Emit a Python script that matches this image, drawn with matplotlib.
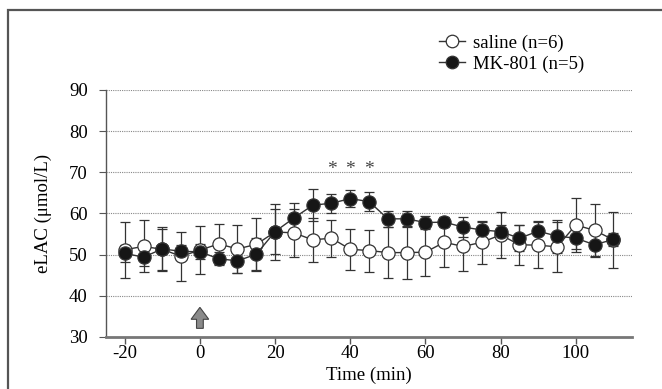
import matplotlib
matplotlib.use("Agg")
import matplotlib.pyplot as plt
from matplotlib.patches import Rectangle, FancyArrow

plt.rcParams["font.family"] = ["Liberation Serif", "DejaVu Serif"]

# time points (min)
time = [-20, -15, -10, -5, 0, 5, 10, 15, 20, 25, 30, 35, 40, 45, 50, 55,
        60, 65, 70, 75, 80, 85, 90, 95, 100, 105, 110]

# saline (n=6)
saline_mean = [51.2, 52.0, 51.3, 49.6, 51.1, 52.6, 51.4, 52.5, 55.5, 55.3, 53.6, 54.0,
               51.3, 51.0, 50.5, 50.5, 50.6, 53.0, 52.0, 53.0, 54.8, 52.4, 52.3, 51.9,
               57.2, 55.9, 53.6]
saline_err = [6.8, 6.3, 5.0, 6.0, 5.9, 4.9, 5.8, 6.5, 6.7, 5.8, 5.4, 4.5,
              5.0, 5.1, 6.1, 6.4, 5.8, 6.1, 5.9, 5.2, 5.5, 4.9, 5.6, 6.0,
              6.5, 6.3, 6.8]

# MK-801 (n=5)
mk_mean = [50.3, 49.4, 51.4, 50.8, 50.7, 49.0, 48.5, 50.1, 55.6, 58.9, 62.0, 62.5,
           63.6, 62.9, 58.7, 58.7, 57.8, 57.9, 56.7, 56.0, 55.6, 54.0, 55.7, 54.5,
           54.0, 52.4, 53.7]
mk_err = [2.1, 2.2, 5.3, 1.5, 1.8, 1.6, 3.0, 3.9, 5.4, 3.7, 3.9, 2.3,
          2.1, 2.4, 1.9, 2.0, 1.5, 1.3, 2.4, 1.9, 1.5, 3.2, 2.4, 4.0,
          2.6, 2.9, 1.5]

star_times = [35, 40, 45]
arrow_time = 0

fig = plt.figure(figsize=(6.62, 3.89), dpi=100)
ax = fig.add_axes([0.160, 0.1337, 0.795, 0.635])

# outer frame of the panel
fig.patches.append(Rectangle((8 / 662, -0.2), 1.2, 1.2 - 10 / 389,
                             transform=fig.transFigure, fill=False,
                             edgecolor="#555555", linewidth=1.6))

line_col = "#333333"
ax.errorbar(time, saline_mean, yerr=saline_err, fmt="none", ecolor=line_col,
            elinewidth=0.9, capsize=3.6, capthick=0.9, zorder=2)
ax.errorbar(time, mk_mean, yerr=mk_err, fmt="none", ecolor=line_col,
            elinewidth=0.9, capsize=3.6, capthick=0.9, zorder=2)
ax.plot(time, saline_mean, "-o", color=line_col, lw=1.0, ms=9.5,
        mfc="white", mec="#333333", mew=0.9, zorder=3, label="saline (n=6)")
ax.plot(time, mk_mean, "-o", color=line_col, lw=1.0, ms=9.5,
        mfc="#161616", mec="#333333", mew=0.9, zorder=4, label="MK-801 (n=5)")

for t in star_times:
    ax.text(t, 68.6, "*", ha="center", va="bottom", fontsize=14, color="#444444")

# injection arrow
ax.add_patch(FancyArrow(arrow_time, 32.1, 0, 5.1, width=1.8, head_width=4.7,
                        head_length=2.9, length_includes_head=True,
                        fc="#8a8a8a", ec="#444444", lw=0.8, zorder=3))

ax.set_xlim(-25, 115)
ax.set_ylim(30, 90)
ax.set_xticks([-20, 0, 20, 40, 60, 80, 100])
ax.set_xticklabels(["-20", "0", "20", "40", "60", "80", "100"])
ax.set_yticks([30, 40, 50, 60, 70, 80, 90])
for y in [40, 50, 60, 70, 80, 90]:
    ax.axhline(y, color="#888888", lw=0.8, ls=(0, (1, 1)), zorder=1)

for s in ["top", "right"]:
    ax.spines[s].set_visible(False)
ax.spines["left"].set_color("#555555")
ax.spines["left"].set_linewidth(1.0)
ax.spines["bottom"].set_color("#777777")
ax.spines["bottom"].set_linewidth(2.0)
ax.tick_params(axis="x", direction="out", length=5, width=1.0, color="#555555",
               labelsize=13.5, pad=1)
ax.tick_params(axis="y", direction="out", length=5, width=0.8, color="#555555",
               labelsize=13.5, pad=8)

ax.set_xlabel("Time (min)", fontsize=13.5, labelpad=3)
ax.set_ylabel("eLAC (\u03bcmol/L)", fontsize=13.5, labelpad=12)

ax.legend(loc="upper left", bbox_to_anchor=(0.652, 0.93),
          bbox_transform=fig.transFigure, frameon=False, fontsize=13.5,
          handlelength=1.4, handletextpad=0.4, labelspacing=0.2,
          markerscale=0.95, borderaxespad=0)

fig.savefig("out.png", dpi=100, facecolor="white")
